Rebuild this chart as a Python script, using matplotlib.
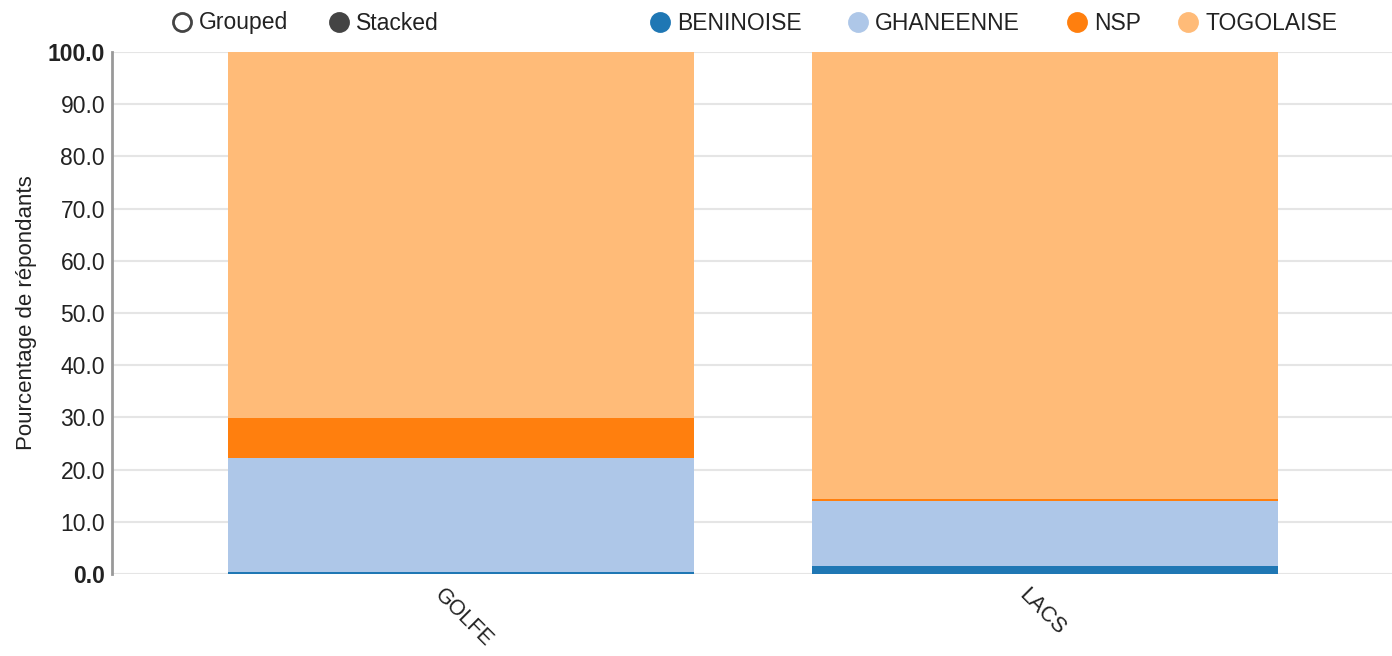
import numpy as np
import matplotlib.pyplot as plt
import matplotlib.transforms as mtransforms
from matplotlib.lines import Line2D

plt.rcParams['font.family'] = ['Liberation Sans', 'DejaVu Sans']

regions = ['GOLFE', 'LACS']
series = ['BENINOISE', 'GHANEENNE', 'NSP', 'TOGOLAISE']
beninoise = [0.4, 1.5]
ghaneenne = [21.8, 12.5]
nsp = [7.7, 0.3]
togolaise = [70.1, 85.7]
colors = ['#1f77b4', '#aec7e8', '#ff7f0e', '#ffbb78']
yticks = [0, 10, 20, 30, 40, 50, 60, 70, 80, 90, 100]

fig = plt.figure(figsize=(13.92, 6.56), dpi=100)
ax = fig.add_axes([112 / 1392, 1 - 574 / 656, 1 - 112 / 1392, (574 - 52) / 656])

x = np.arange(len(regions))
bottom = np.zeros(len(regions))
for vals, c in zip([beninoise, ghaneenne, nsp, togolaise], colors):
    ax.bar(x, vals, width=0.798, bottom=bottom, color=c, zorder=2)
    bottom += np.array(vals)

ax.set_xlim(-0.598, 1.594)
ax.set_ylim(0, 100)
ax.set_yticks(yticks)
ax.set_yticklabels([f'{v:.1f}' for v in yticks])
for lab, v in zip(ax.get_yticklabels(), yticks):
    if v in (0, 100):
        lab.set_fontweight('bold')
    lab.set_color('#222222')
ax.tick_params(axis='y', labelsize=16.5, length=0, pad=5)
ax.grid(axis='y', color='#e5e5e5', linewidth=1.5, zorder=0)
for s in ['top', 'right', 'bottom']:
    ax.spines[s].set_visible(False)
ax.spines['left'].set_color('#999999')
ax.spines['left'].set_linewidth(2)

ax.set_xticks(x)
ax.set_xticklabels(regions, rotation=-45, ha='left', rotation_mode='anchor', fontsize=15.5, color='#222222')
ax.tick_params(axis='x', length=0, pad=8)
shift = mtransforms.ScaledTranslation(-16 / 100, 0, fig.dpi_scale_trans)
for lab in ax.get_xticklabels():
    lab.set_transform(lab.get_transform() + shift)

ax.set_ylabel('Pourcentage de répondants', fontsize=16, color='#222222', labelpad=8)

# legend row at top
def legend_item(px, label, face, edge):
    fig.add_artist(Line2D([px / 1392], [1 - 22 / 656], marker='o', markersize=13,
                          markerfacecolor=face, markeredgecolor=edge, markeredgewidth=2,
                          linestyle='none', transform=fig.transFigure))
    fig.text((px + 17) / 1392, 1 - 23 / 656, label, fontsize=16.5, va='center', ha='left', color='#222222')

legend_item(182, 'Grouped', 'white', '#444444')
legend_item(339, 'Stacked', '#444444', '#444444')
for px, name, c in zip([660, 858, 1077, 1188], series, colors):
    legend_item(px, name, c, c)

fig.savefig('out.png', dpi=100)
